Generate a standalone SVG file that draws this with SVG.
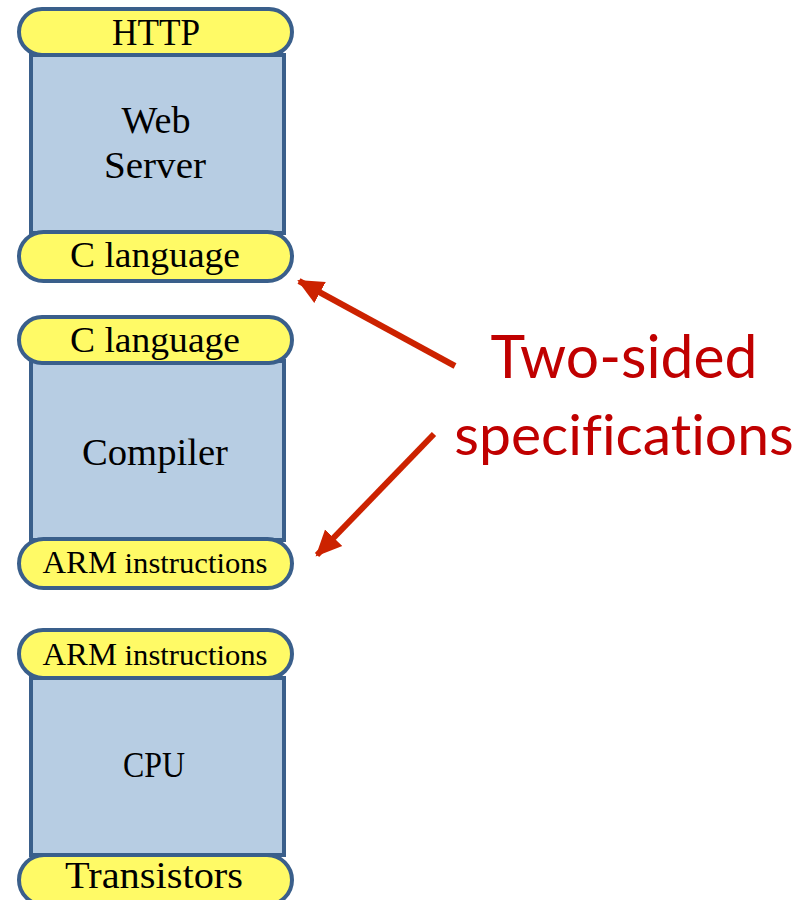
<svg xmlns="http://www.w3.org/2000/svg" width="807" height="900" viewBox="0 0 807 900">
  <style>
    .body { fill: #B7CDE3; stroke: #3A5F8B; stroke-width: 4; }
    .pill { fill: #FFFA66; stroke: #3A5F8B; stroke-width: 4; }
    .lbl { font-family: "Liberation Serif", "DejaVu Serif", serif; fill: #000; text-anchor: middle; }
    .note { font-family: "Lato", "Open Sans", "Liberation Sans", sans-serif; fill: #C00000; text-anchor: middle; font-variant-ligatures: none; }
    .arrow { stroke: #CC2200; stroke-width: 6; fill: none; }
  </style>
  <defs>
    <marker id="head" markerUnits="userSpaceOnUse" markerWidth="28" markerHeight="28" viewBox="0 0 28 28" refX="24" refY="14" orient="auto">
      <polygon points="0,2 26,14 0,26" fill="#CC2200"/>
    </marker>
  </defs>

  <!-- Web server layer -->
  <g id="web-server">
    <rect class="body" x="31" y="55" width="253" height="178"/>
    <rect class="pill" x="19" y="9" width="273" height="46" rx="23"/>
    <rect class="pill" x="19" y="232" width="273" height="49" rx="24.5"/>
    <text class="lbl" x="156" y="45" font-size="37" textLength="88" lengthAdjust="spacingAndGlyphs">HTTP</text>
    <text class="lbl" x="156" y="133" font-size="38" textLength="69" lengthAdjust="spacingAndGlyphs">Web</text>
    <text class="lbl" x="155" y="178" font-size="38" textLength="102" lengthAdjust="spacingAndGlyphs">Server</text>
    <text class="lbl" x="155" y="267" font-size="36" textLength="170" lengthAdjust="spacingAndGlyphs">C language</text>
  </g>

  <!-- Compiler layer -->
  <g id="compiler">
    <rect class="body" x="31" y="361" width="253" height="179"/>
    <rect class="pill" x="19" y="317" width="273" height="46" rx="23"/>
    <rect class="pill" x="19" y="539" width="273" height="49" rx="24.5"/>
    <text class="lbl" x="155" y="352" font-size="36" textLength="170" lengthAdjust="spacingAndGlyphs">C language</text>
    <text class="lbl" x="155" y="465" font-size="38" textLength="146" lengthAdjust="spacingAndGlyphs">Compiler</text>
    <text class="lbl" x="155" y="573" textLength="225" lengthAdjust="spacingAndGlyphs"><tspan font-size="32">ARM</tspan><tspan font-size="30"> instructions</tspan></text>
  </g>

  <!-- CPU layer -->
  <g id="cpu">
    <rect class="body" x="31" y="678" width="253" height="177"/>
    <rect class="pill" x="19" y="630" width="273" height="48" rx="24"/>
    <rect class="pill" x="19" y="855" width="273" height="50" rx="25"/>
    <text class="lbl" x="155" y="665" textLength="225" lengthAdjust="spacingAndGlyphs"><tspan font-size="32">ARM</tspan><tspan font-size="30"> instructions</tspan></text>
    <text class="lbl" x="154" y="777" font-size="36" textLength="62" lengthAdjust="spacingAndGlyphs">CPU</text>
    <text class="lbl" x="154" y="888" font-size="38" textLength="178" lengthAdjust="spacingAndGlyphs">Transistors</text>
  </g>

  <!-- Callout -->
  <g id="callout">
    <text class="note" x="624" y="378" font-size="60" textLength="267" lengthAdjust="spacingAndGlyphs">Two-sided</text>
    <text class="note" x="624" y="455" font-size="57">specifications</text>
  </g>

  <g id="connectors">
    <line class="arrow" x1="455" y1="366" x2="299" y2="281" marker-end="url(#head)"/>
    <line class="arrow" x1="434" y1="434" x2="317" y2="555" marker-end="url(#head)"/>
  </g>
</svg>
